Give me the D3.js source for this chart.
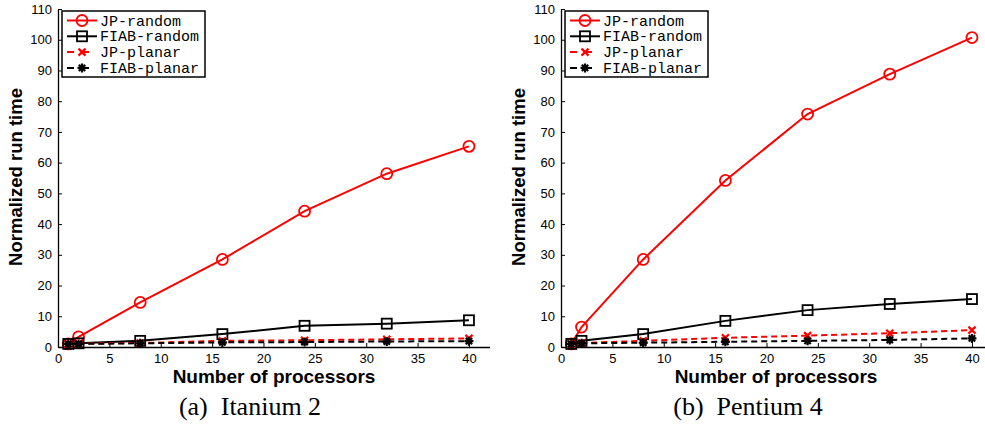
<!DOCTYPE html>
<html>
<head>
<meta charset="utf-8">
<script src="https://cdn.jsdelivr.net/npm/d3@7"></script>
<style>
  body { margin: 0; background: #fff; }
  svg { display: block; }
</style>
</head>
<body>
<svg id="chart" width="985" height="429"></svg>
<script>
// data
const processors = [1, 2, 8, 16, 24, 32, 40];
const seriesNames = ["JP-random", "FIAB-random", "JP-planar", "FIAB-planar"];

// (a) Itanium 2
const itaJpRandom = [1, 3.3, 14.5, 28.5, 44.2, 56.4, 65.3];
const itaFiabRandom = [1, 1.2, 2, 4.2, 6.9, 7.6, 8.7];
const itaJpPlanar = [1, 1.1, 1.3, 2, 2.2, 2.5, 2.8];
const itaFiabPlanar = [1, 1, 1.2, 1.5, 1.6, 1.8, 1.9];

// (b) Pentium 4
const penJpRandom = [1, 6.5, 28.5, 54.2, 75.8, 88.8, 100.7];
const penFiabRandom = [1, 2, 4.2, 8.5, 12, 14, 15.6];
const penJpPlanar = [1, 1.3, 2, 3, 3.7, 4.5, 5.5];
const penFiabPlanar = [1, 1.2, 1.4, 1.7, 2, 2.3, 2.8];

const xTicks = [0, 5, 10, 15, 20, 25, 30, 35, 40];
const yTicks = [0, 10, 20, 30, 40, 50, 60, 70, 80, 90, 100, 110];

const captions = ["(a)\u00a0 Itanium 2", "(b)\u00a0 Pentium 4"];

// styles per series: color, dash, marker
const styles = [
  { color: "#ff0000", dash: null, marker: "circle" },
  { color: "#000000", dash: null, marker: "square" },
  { color: "#ff0000", dash: "6,4", marker: "x" },
  { color: "#000000", dash: "6,4", marker: "star" }
];

const svg = d3.select("#chart");

function drawMarker(g, type, color, cx, cy) {
  if (type === "circle") {
    g.append("circle").attr("cx", cx).attr("cy", cy).attr("r", 5.5)
      .attr("fill", "none").attr("stroke", color).attr("stroke-width", 1.8);
  } else if (type === "square") {
    g.append("rect").attr("x", cx - 5).attr("y", cy - 5).attr("width", 10).attr("height", 10)
      .attr("fill", "none").attr("stroke", color).attr("stroke-width", 1.8);
  } else if (type === "x") {
    g.append("path").attr("d", `M${cx-3.5},${cy-3.5}L${cx+3.5},${cy+3.5}M${cx-3.5},${cy+3.5}L${cx+3.5},${cy-3.5}`)
      .attr("stroke", color).attr("stroke-width", 2.2);
  } else {
    let d = "";
    for (let k = 0; k < 4; k++) {
      const a = k * Math.PI / 4;
      const dx = 4.5 * Math.cos(a), dy = 4.5 * Math.sin(a);
      d += `M${cx-dx},${cy-dy}L${cx+dx},${cy+dy}`;
    }
    g.append("path").attr("d", d).attr("stroke", color).attr("stroke-width", 2.2);
  }
}

function panel(left, ys, caption, labelX, captionX) {
  const x = d3.scaleLinear().domain([0, 42]).range([left, left + 431.5]);
  const y = d3.scaleLinear().domain([0, 110]).range([347, 9]);
  const g = svg.append("g");

  // axes (MATLAB style: inward ticks, only left and bottom lines)
  const xAxis = g.append("g").attr("transform", "translate(0,347)")
    .call(d3.axisBottom(x).tickValues(xTicks).tickSize(-4).tickPadding(7).tickSizeOuter(0));
  const yAxis = g.append("g").attr("transform", `translate(${left},0)`)
    .call(d3.axisLeft(y).tickValues(yTicks).tickSize(-4).tickPadding(6).tickSizeOuter(0));
  [xAxis, yAxis].forEach(a => {
    a.select(".domain").attr("stroke", "#000").attr("stroke-width", 1.3);
    a.selectAll(".tick line").attr("stroke", "#000");
    a.selectAll(".tick text").attr("fill", "#000")
      .style("font-family", "'Liberation Sans', Arial, sans-serif").style("font-size", "13px");
  });

  // lines + markers
  const line = d3.line().x((d, i) => x(processors[i])).y(d => y(d));
  ys.forEach((vals, s) => {
    const st = styles[s];
    g.append("path").datum(vals).attr("d", line)
      .attr("fill", "none").attr("stroke", st.color).attr("stroke-width", 2)
      .attr("stroke-dasharray", st.dash);
    vals.forEach((v, i) => drawMarker(g, st.marker, st.color, x(processors[i]), y(v)));
  });

  // axis labels
  g.append("text").attr("x", labelX).attr("y", 383).attr("text-anchor", "middle")
    .style("font-family", "'Liberation Sans', Arial, sans-serif").style("font-weight", "bold")
    .style("font-size", "19px").text("Number of processors");
  g.append("text").attr("transform", `translate(${left - 36},177) rotate(-90)`)
    .attr("text-anchor", "middle")
    .style("font-family", "'Liberation Sans', Arial, sans-serif").style("font-weight", "bold")
    .style("font-size", "18.5px").text("Normalized run time");

  // caption
  g.append("text").attr("x", captionX).attr("y", 415).attr("text-anchor", "middle")
    .style("font-family", "'Liberation Serif', 'Times New Roman', serif")
    .style("font-size", "26px").text(caption);

  // legend
  const lg = g.append("g").attr("transform", `translate(${left + 4},11)`);
  lg.append("rect").attr("width", 143).attr("height", 66)
    .attr("fill", "#fff").attr("stroke", "#000").attr("stroke-width", 1.5);
  seriesNames.forEach((name, s) => {
    const st = styles[s];
    const cy = 9.5 + s * 15.8;
    lg.append("line").attr("x1", 5).attr("x2", 35).attr("y1", cy).attr("y2", cy)
      .attr("stroke", st.color).attr("stroke-width", 2).attr("stroke-dasharray", st.dash ? "7,8" : null);
    drawMarker(lg, st.marker, st.color, 20, cy);
    lg.append("text").attr("x", 38).attr("y", cy + 5)
      .style("font-family", "'Liberation Mono', 'Courier New', monospace")
      .style("font-size", "15px").text(name);
  });
}

panel(58, [itaJpRandom, itaFiabRandom, itaJpPlanar, itaFiabPlanar], captions[0], 274, 250);
panel(561, [penJpRandom, penFiabRandom, penJpPlanar, penFiabPlanar], captions[1], 776, 748);
</script>
</body>
</html>
